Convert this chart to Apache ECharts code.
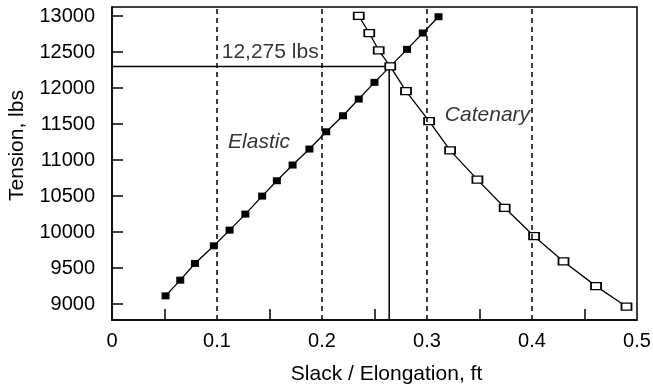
<!DOCTYPE html>
<html>
<head>
<meta charset="utf-8">
<script src="https://cdn.jsdelivr.net/npm/echarts@6/dist/echarts.min.js"></script>
<style>
  html, body { margin: 0; padding: 0; background: #fff; }
  #chart { width: 653px; height: 387px; }
</style>
</head>
<body>
<div id="chart"></div>
<script>
// elastic curve (filled squares)
const elasticX = [0.051, 0.065, 0.079, 0.097, 0.112, 0.127, 0.143, 0.157, 0.172,
  0.188, 0.204, 0.220, 0.235, 0.250, 0.265, 0.281, 0.296, 0.311];
const elasticY = [9115, 9333, 9565, 9810, 10028, 10250, 10500, 10713, 10931,
  11153, 11393, 11615, 11847, 12079, 12301, 12537, 12764, 12990];

// catenary curve (open squares)
const catenaryX = [0.235, 0.245, 0.254, 0.265, 0.280, 0.302, 0.322, 0.348,
  0.374, 0.402, 0.430, 0.461, 0.490];
const catenaryY = [13001, 12764, 12524, 12301, 11958, 11542, 11135, 10729,
  10338, 9943, 9593, 9250, 8964];

// crossing point guide lines
const crossX = 0.264;
const crossY = 12300;

// dashed reference lines
const dashX = [0.1, 0.2, 0.3, 0.4];

// tick labels
const xTicks = [0, 0.1, 0.2, 0.3, 0.4, 0.5];
const xMinorTicks = [0.05, 0.15, 0.25, 0.35, 0.45];
const yTicks = [9000, 9500, 10000, 10500, 11000, 11500, 12000, 12500, 13000];

// text notes on the plot
const noteText = ['12,275 lbs', 'Elastic', 'Catenary'];
const noteX = [0.1045, 0.1105, 0.317];
const noteY = [12500, 11250, 11625];
const noteItalic = [false, true, true];

const ink = '#000';
const font = "'Liberation Sans', Arial, sans-serif";

const chart = echarts.init(document.getElementById('chart'));

const option = {
  animation: false,
  grid: {
    left: 112, right: 16, top: 7, bottom: 67,
    outerBoundsMode: 'none',
    containLabel: false,
    show: true, borderColor: ink, borderWidth: 1.5
  },
  xAxis: {
    type: 'value',
    min: 0, max: 0.5, interval: 0.1,
    name: 'Slack / Elongation, ft',
    nameLocation: 'middle',
    nameGap: 44,
    nameTextStyle: { color: ink, fontSize: 21, fontFamily: font, padding: [0, 0, 0, 24] },
    axisLine: { show: true, lineStyle: { color: ink, width: 1.5 } },
    axisTick: {
      show: true, inside: true, length: 11,
      customValues: xMinorTicks,
      lineStyle: { color: ink, width: 1.5 }
    },
    axisLabel: {
      customValues: xTicks,
      margin: 11,
      color: ink, fontSize: 20, fontFamily: font,
      formatter: v => String(+v.toFixed(2))
    },
    splitLine: { show: false }
  },
  yAxis: {
    type: 'value',
    min: 8780, max: 13125,
    name: 'Tension, lbs',
    nameLocation: 'middle',
    nameGap: 84,
    nameTextStyle: { color: ink, fontSize: 21, fontFamily: font, padding: [0, 0, 0, 36] },
    axisLine: { show: true, lineStyle: { color: ink, width: 1.5 } },
    axisTick: {
      show: true, inside: true, length: 11,
      customValues: yTicks,
      lineStyle: { color: ink, width: 1.5 }
    },
    axisLabel: {
      customValues: yTicks,
      margin: 17,
      color: ink, fontSize: 20, fontFamily: font,
      formatter: v => String(Math.round(v))
    },
    splitLine: { show: false }
  },
  series: [
    {
      name: 'guide',
      type: 'line',
      data: [[0, crossY], [crossX, crossY], [crossX, 8780]],
      showSymbol: false,
      lineStyle: { color: ink, width: 1.5 },
      silent: true,
      z: 2,
      markLine: {
        silent: true,
        symbol: 'none',
        label: { show: false },
        lineStyle: { color: ink, width: 1.5, type: [5, 4] },
        data: dashX.map(x => ({ xAxis: x }))
      }
    },
    {
      name: 'Elastic',
      type: 'line',
      data: elasticX.map((x, i) => [x, elasticY[i]]),
      symbol: 'rect',
      symbolSize: [8, 7],
      itemStyle: { color: ink, borderWidth: 0 },
      lineStyle: { color: ink, width: 1.3 },
      z: 3
    },
    {
      name: 'Catenary',
      type: 'line',
      data: catenaryX.map((x, i) => [x, catenaryY[i]]),
      symbol: 'rect',
      symbolSize: [10, 7],
      itemStyle: { color: '#fff', borderColor: ink, borderWidth: 1.5 },
      lineStyle: { color: ink, width: 1.3 },
      z: 4
    },
    {
      name: 'notes',
      type: 'scatter',
      symbolSize: 0,
      silent: true,
      data: noteText.map((t, i) => ({
        value: [noteX[i], noteY[i]],
        label: {
          show: true,
          position: 'right',
          distance: 0,
          formatter: t,
          color: ink,
          fontSize: 21,
          fontFamily: font,
          fontStyle: noteItalic[i] ? 'italic' : 'normal'
        }
      })),
      z: 5
    }
  ]
};

chart.setOption(option);
</script>
</body>
</html>
